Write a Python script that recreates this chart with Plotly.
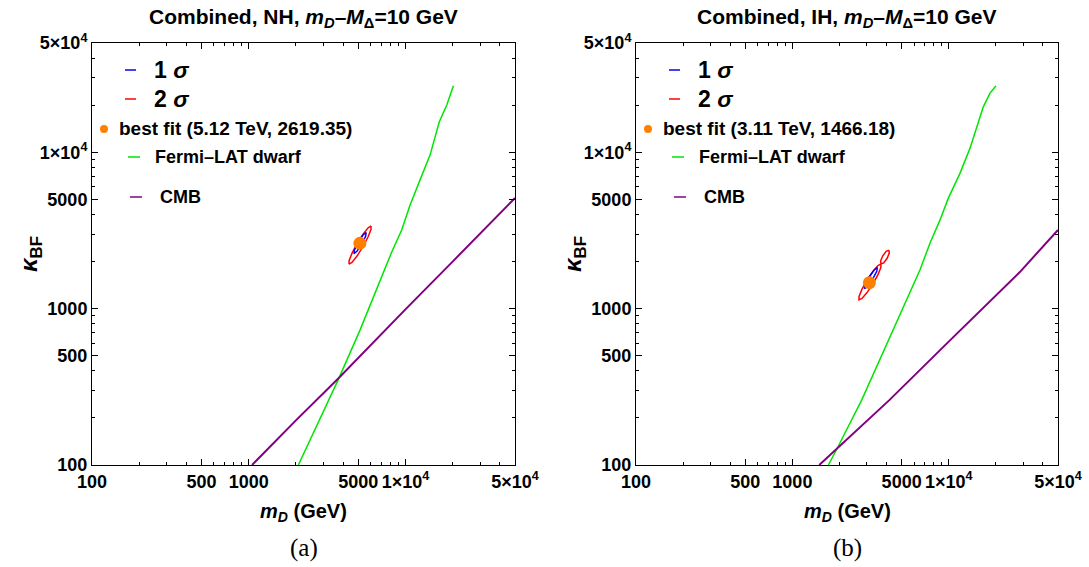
import math
import plotly.graph_objects as go

W, H = 1089, 567

# ---------------- data ----------------
# Panel (a): NH
nh_fermi_m = [2073, 3733, 5129, 7329, 8186, 9464, 10690, 12380, 14350, 16450, 18350, 20230]
nh_fermi_k = [100, 353, 729, 1766, 2312, 3185, 4592, 6636, 9596, 15670, 20040, 26600]
nh_cmb_m = [1050, 2000, 3700, 5000, 10000, 20000, 50000]
nh_cmb_k = [100, 193, 355, 485, 990, 2000, 5100]
nh_2s_m = [6034, 6030, 5771, 5352, 4910, 4556, 4367, 4369, 4564, 4920, 5364, 5781]
nh_2s_k = [3377, 3213, 2873, 2490, 2170, 1976, 1927, 2025, 2264, 2614, 2998, 3293]
nh_1s_m = [5618, 5570, 5264, 4902, 4690, 4730, 5003, 5373]
nh_1s_k = [3073, 2904, 2588, 2327, 2245, 2376, 2666, 2966]
nh_best = (5120, 2619.35)

# Panel (b): IH
ih_fermi_m = [1699, 1936, 2775, 6546, 7586, 8790, 9931, 11800, 13670, 15460, 16640, 18340, 20050]
ih_fermi_k = [100, 128, 260, 1766, 2618, 3680, 5070, 7330, 10590, 15310, 19540, 23830, 26630]
ih_cmb_m = [1486, 1936, 4170, 10000, 28500, 50000]
ih_cmb_k = [100, 128, 260, 615, 1714, 3185]
ih_2s_a_m = [3683, 3684, 3528, 3276, 3004, 2787, 2669, 2667, 2784, 2999, 3271, 3525]
ih_2s_a_k = [1925, 1834, 1650, 1440, 1267, 1161, 1137, 1193, 1327, 1520, 1728, 1884]
ih_2s_b_m = [4144, 4168, 4036, 3837, 3688, 3667, 3786, 3983]
ih_2s_b_k = [2367, 2268, 2099, 1963, 1930, 2015, 2177, 2328]
ih_1s_m = [3501, 3466, 3262, 3026, 2891, 2920, 3102, 3344]
ih_1s_k = [1835, 1734, 1545, 1389, 1341, 1420, 1594, 1773]
ih_best = (3110, 1466.18)

tick_vals = [100, 500, 1000, 5000, 10000, 50000]
tick_text = ["100", "500", "1000", "5000", "1×10<sup>4</sup>", "5×10<sup>4</sup>"]
minor_vals = [200, 300, 400, 600, 700, 800, 900, 2000, 3000, 4000, 6000, 7000, 8000, 9000,
              20000, 30000, 40000]

titles = ["Combined, NH, <i>m<sub>D</sub></i>–<i>M</i><sub>Δ</sub>=10 GeV",
          "Combined, IH, <i>m<sub>D</sub></i>–<i>M</i><sub>Δ</sub>=10 GeV"]
best_labels = ["best fit (5.12 TeV, 2619.35)", "best fit (3.11 TeV, 1466.18)"]
captions = ["(a)", "(b)"]

# ---------------- styles ----------------
BLUE, RED, GREEN, PURPLE, ORANGE = "#0000FF", "#FF0000", "#00E600", "#800080", "#FF8000"
FONT = "Liberation Sans, Arial, sans-serif"


def closed(a):
    return list(a) + [a[0]]


fig = go.Figure()


def add_panel(ax, fm, fk, cm, ck, contours2, contour1, best):
    xa, ya = ("x", "y") if ax == 1 else ("x2", "y2")
    fig.add_trace(go.Scatter(x=fm, y=fk, mode="lines", line=dict(color=GREEN, width=1.5),
                             xaxis=xa, yaxis=ya, showlegend=False))
    fig.add_trace(go.Scatter(x=cm, y=ck, mode="lines", line=dict(color=PURPLE, width=2),
                             xaxis=xa, yaxis=ya, showlegend=False))
    for (m, k) in contours2:
        fig.add_trace(go.Scatter(x=closed(m), y=closed(k), mode="lines",
                                 line=dict(color=RED, width=1.5),
                                 xaxis=xa, yaxis=ya, showlegend=False))
    m, k = contour1
    fig.add_trace(go.Scatter(x=closed(m), y=closed(k), mode="lines",
                             line=dict(color=BLUE, width=1.5),
                             xaxis=xa, yaxis=ya, showlegend=False))
    fig.add_trace(go.Scatter(x=[best[0]], y=[best[1]], mode="markers",
                             marker=dict(color=ORANGE, size=13),
                             xaxis=xa, yaxis=ya, showlegend=False))


add_panel(1, nh_fermi_m, nh_fermi_k, nh_cmb_m, nh_cmb_k,
          [(nh_2s_m, nh_2s_k)], (nh_1s_m, nh_1s_k), nh_best)
add_panel(2, ih_fermi_m, ih_fermi_k, ih_cmb_m, ih_cmb_k,
          [(ih_2s_a_m, ih_2s_a_k), (ih_2s_b_m, ih_2s_b_k)], (ih_1s_m, ih_1s_k), ih_best)

# panel pixel boxes
panels = [(92, 515), (636, 1058)]
top, bot = 43, 465


def fx(x):
    return x / W


def fy(y):
    return 1 - y / H


axis_common = dict(
    type="log", showline=True, linecolor="black", linewidth=1, mirror="allticks",
    ticks="inside", ticklen=6, tickcolor="black", tickwidth=1,
    tickmode="array", tickvals=tick_vals, ticktext=tick_text,
    tickfont=dict(family=FONT, size=18, color="black", weight="bold"),
    showgrid=False, zeroline=False, automargin=False,
    minor=dict(ticks="inside", ticklen=3, tickcolor="black", tickwidth=1,
               tickmode="array", tickvals=minor_vals, showgrid=False),
)
xr = [math.log10(100), math.log10(50000)]
yr = [math.log10(100), math.log10(50000)]

layout = dict(
    width=W, height=H, margin=dict(l=0, r=0, t=0, b=0, autoexpand=False),
    plot_bgcolor="white", paper_bgcolor="white", showlegend=False,
    font=dict(family=FONT, color="black"),
)
layout["xaxis"] = dict(axis_common, domain=[fx(92), fx(515)], range=xr, anchor="y")
layout["yaxis"] = dict(axis_common, domain=[fy(bot), fy(top)], range=yr, anchor="x")
layout["xaxis2"] = dict(axis_common, domain=[fx(636), fx(1058)], range=xr, anchor="y2")
layout["yaxis2"] = dict(axis_common, domain=[fy(bot), fy(top)], range=yr, anchor="x2")
fig.update_layout(**layout)

ann = []
shapes = []
for i, (x0, x1) in enumerate(panels):
    cx = (x0 + x1) / 2
    off = x0 - 92
    ann.append(dict(x=fx(cx), y=fy(18), xref="paper", yref="paper", text="<b>" + titles[i] + "</b>",
                    showarrow=False, xanchor="center", yanchor="middle",
                    font=dict(family=FONT, size=21, color="black")))
    ann.append(dict(x=fx(cx), y=fy(512), xref="paper", yref="paper",
                    text="<b><i>m<sub>D</sub></i> (GeV)</b>",
                    showarrow=False, xanchor="center", yanchor="middle",
                    font=dict(family=FONT, size=20, color="black")))
    ann.append(dict(x=fx(x0 - 62), y=fy(254), xref="paper", yref="paper",
                    text="<b><i>κ</i><sub>BF</sub></b>", textangle=-90,
                    showarrow=False, xanchor="center", yanchor="middle",
                    font=dict(family=FONT, size=24, color="black")))
    ann.append(dict(x=fx(cx), y=fy(548), xref="paper", yref="paper", text=captions[i],
                    showarrow=False, xanchor="center", yanchor="middle",
                    font=dict(family="Liberation Serif, Times New Roman, serif", size=25,
                              color="black")))
    # legend
    leg = [
        (70, BLUE, 125, 136, "<b>1 <i>σ</i></b>", 152, 23),
        (99, RED, 125, 136, "<b>2 <i>σ</i></b>", 152, 23),
        (157, GREEN, 128, 140, "<b>Fermi–LAT dwarf</b>", 153, 18),
        (197, PURPLE, 130, 142, "<b>CMB</b>", 158, 18),
    ]
    for (yy, col, lx0, lx1, txt, tx, fs) in leg:
        shapes.append(dict(type="line", xref="paper", yref="paper",
                           x0=fx(lx0 + off), x1=fx(lx1 + off), y0=fy(yy), y1=fy(yy),
                           line=dict(color=col, width=1.5)))
        ann.append(dict(x=fx(tx + off), y=fy(yy), xref="paper", yref="paper", text=txt,
                        showarrow=False, xanchor="left", yanchor="middle",
                        font=dict(family=FONT, size=fs, color="black")))
    shapes.append(dict(type="circle", xref="paper", yref="paper",
                       x0=fx(100 + off), x1=fx(108 + off), y0=fy(125), y1=fy(133),
                       fillcolor=ORANGE, line=dict(color=ORANGE, width=0)))
    ann.append(dict(x=fx(117 + off), y=fy(129), xref="paper", yref="paper",
                    text="<b>" + best_labels[i] + "</b>",
                    showarrow=False, xanchor="left", yanchor="middle",
                    font=dict(family=FONT, size=19, color="black")))

fig.update_layout(annotations=ann, shapes=shapes)
fig.write_html("out.html", config={"displayModeBar": False},
               post_script="document.body.style.margin='0';document.body.style.overflow='hidden';")
